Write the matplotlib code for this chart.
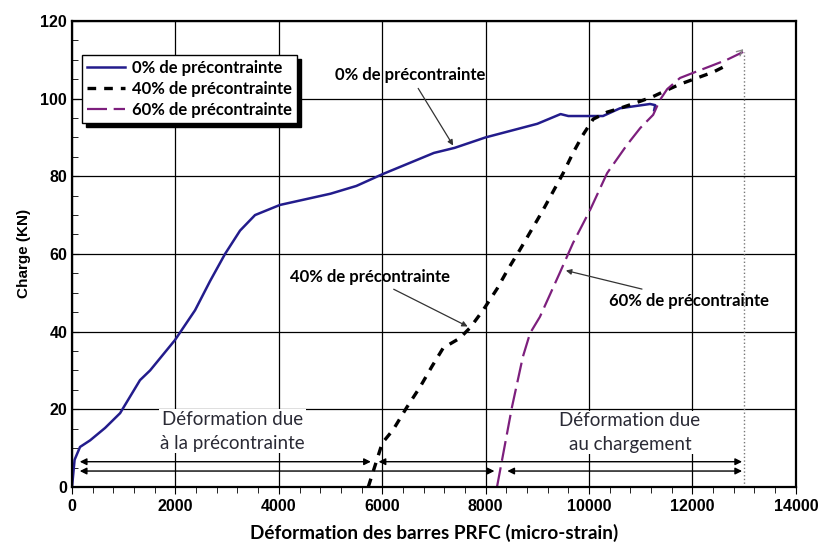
import numpy as np
import matplotlib.pyplot as plt

plt.rcParams['font.family'] = ['Lato', 'DejaVu Sans']

# courbes charge / deformation
x0 = [0, 50, 155, 350, 640, 930, 1315, 1510, 1990, 2380, 2670, 2960, 3250,
      3540, 4020, 5000, 5500, 6000, 7000, 7400, 8000, 9000, 9450, 9600,
      10270, 10600, 11180, 11280, 11260]
y0 = [0, 7, 10.3, 12, 15.2, 19, 27.5, 30, 37.8, 45.5, 53, 60, 66,
      70, 72.6, 75.5, 77.5, 80.5, 86, 87.3, 90, 93.5, 96, 95.5,
      95.5, 97.5, 98.6, 98.3, 97]

x40 = [5730, 6000, 6210, 6480, 6730, 6960, 7180, 7500, 7700, 7950, 8220,
       8430, 8660, 9090, 9500, 9690, 9880, 10080, 10350, 10600, 10990, 11220,
       11510, 11760, 12090, 12400, 12670]
y40 = [0, 11.3, 14.7, 20.6, 25.7, 31, 35.8, 38.3, 41, 45.5, 51,
       56, 61, 70.8, 80.8, 86, 90.6, 94.7, 96.5, 97.5, 99.3, 100.4,
       102.2, 103.7, 105.3, 106.8, 108.6]

x60 = [8220, 8510, 8720, 8860, 9050, 9440, 9690, 10020, 10350, 10730,
       10990, 11240, 11370, 11510, 11760, 12010, 12400, 12670, 12980]
y60 = [0, 20.6, 33.5, 39.6, 43.8, 55.3, 62.8, 71.3, 80.8, 88,
       92.4, 95.8, 99.6, 102.4, 105.3, 106.6, 108.6, 110, 112]

labels = ['0% de précontrainte', '40% de précontrainte', '60% de précontrainte']

fig = plt.figure(figsize=(8.23, 5.49), dpi=100)
ax = fig.add_axes([0.0875, 0.113, 0.8795, 0.849])

ax.plot(x0, y0, color='#231c8c', lw=1.8, label=labels[0])
ax.plot(x40, y40, color='black', lw=2.4, ls=(0, (2.6, 2.4)), label=labels[1])
ax.plot(x60, y60, color='#7d1f7d', lw=1.6, ls=(0, (9, 3)), label=labels[2])

ax.set_xlim(0, 14000)
ax.set_ylim(0, 120)
ax.set_xticks(np.arange(0, 14001, 2000))
ax.set_yticks(np.arange(0, 121, 20))
ax.set_xticks(np.arange(0, 14001, 400), minor=True)
ax.set_yticks(np.arange(0, 121, 5), minor=True)
ax.grid(True, which='major', color='black', lw=0.9)
ax.tick_params(axis='x', which='both', direction='out', labelsize=11.5)
ax.tick_params(axis='y', which='both', direction='in', labelsize=11.5)
ax.tick_params(which='major', length=5)
ax.tick_params(which='minor', length=4)
for lab in ax.get_xticklabels() + ax.get_yticklabels():
    lab.set_fontweight('bold')
    lab.set_family(['Liberation Sans', 'DejaVu Sans'])
for sp in ax.spines.values():
    sp.set_linewidth(1.6)

ax.set_xlabel('Déformation des barres PRFC (micro-strain)', fontsize=13.6,
              fontweight='bold', labelpad=7)
ax.set_ylabel('Charge (KN)', fontsize=11, fontweight='bold', labelpad=7,
              family=['Liberation Sans', 'DejaVu Sans'])

# fleches des courbes
arr = dict(arrowstyle='-|>', color='#333333', lw=0.9, mutation_scale=8)
ax.annotate(labels[0], xy=(7400, 87.3), xytext=(6540, 106), fontsize=12,
            fontweight='bold', ha='center', va='center', arrowprops=arr)
ax.annotate(labels[1], xy=(7700, 41), xytext=(5760, 54), fontsize=12,
            fontweight='bold', ha='center', va='center', arrowprops=arr)
ax.annotate(labels[2], xy=(9500, 55.9), xytext=(11930, 48), fontsize=12,
            fontweight='bold', ha='center', va='center', arrowprops=arr)

# fleches des deformations
dbl = dict(arrowstyle='<|-|>', color='black', lw=1.0, mutation_scale=10,
           shrinkA=0, shrinkB=0)
ax.annotate('', xy=(150, 6.5), xytext=(5780, 6.5), arrowprops=dbl)
ax.annotate('', xy=(5930, 6.5), xytext=(12960, 6.5), arrowprops=dbl)
ax.annotate('', xy=(150, 4.1), xytext=(8170, 4.1), arrowprops=dbl)
ax.annotate('', xy=(8420, 4.1), xytext=(12960, 4.1), arrowprops=dbl)

ax.plot([13000, 13000], [0, 112], color='#777777', lw=1.0, ls=':')
ax.annotate('', xy=(13030, 113.2), xytext=(12900, 111.7),
            arrowprops=dict(arrowstyle='->', color='#888888', lw=1.0))

box = dict(facecolor='white', edgecolor='none', pad=1)
ax.text(3100, 14.4, 'Déformation due\nà la précontrainte', fontsize=13.5,
        ha='center', va='center', color='#2a2a35', linespacing=1.5, bbox=box)
ax.text(10790, 14.0, 'Déformation due\nau chargement', fontsize=13.5,
        ha='center', va='center', color='#2a2a35', linespacing=1.5, bbox=box)

leg = ax.legend(loc='upper left', bbox_to_anchor=(0.014, 0.927), fancybox=False,
                edgecolor='black', framealpha=1, handlelength=2.3,
                borderaxespad=0, borderpad=0.3, labelspacing=0.3,
                handletextpad=0.4,
                shadow={'color': 'black', 'alpha': 1, 'ox': 3, 'oy': -3},
                prop={'weight': 'bold', 'size': 12})
leg.get_frame().set_linewidth(1.0)

fig.savefig('out.png', dpi=100)
